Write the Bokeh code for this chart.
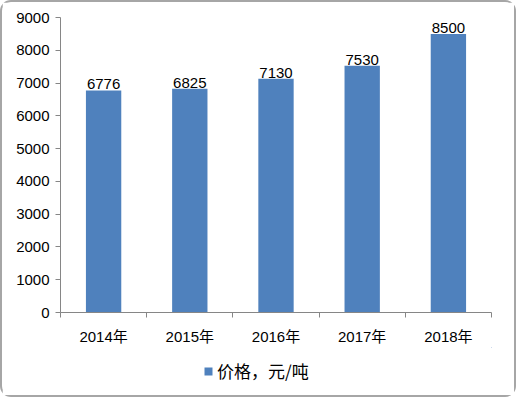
from bokeh.plotting import figure
from bokeh.models import ColumnDataSource, FixedTicker, Range1d, Legend, LegendItem
from bokeh.layouts import column
from bokeh.core.properties import value
from bokeh.embed import file_html
from bokeh.resources import INLINE

years = ["2014年", "2015年", "2016年", "2017年", "2018年"]
prices = [6776, 6825, 7130, 7530, 8500]
y_ticks = [0, 1000, 2000, 3000, 4000, 5000, 6000, 7000, 8000, 9000]
series_name = "价格，元/吨"

BAR_COLOR = "#4F81BD"
AXIS_COLOR = "#868686"
FONT = "Liberation Sans, Noto Sans CJK SC"

xs = [i + 0.5 for i in range(len(years))]
src = ColumnDataSource(dict(x=xs, top=prices, label=[str(v) for v in prices]))

p = figure(width=512, height=345, output_backend="svg", toolbar_location=None,
           x_range=Range1d(0, len(years)), y_range=Range1d(0, 9000),
           min_border_left=58, min_border_right=23, min_border_top=15, min_border_bottom=34)
p.outline_line_color = None
p.xgrid.visible = False
p.ygrid.visible = False

bars = p.vbar(x="x", top="top", width=0.41, bottom=0, source=src,
              fill_color=BAR_COLOR, line_color=None)

p.text(x="x", y="top", text="label", source=src, text_align="center",
       text_baseline="bottom", y_offset=-1, text_font=value(FONT),
       text_font_size="15px", text_color="#000000")

# x axis: labels at category centres, tick marks at category boundaries
xa = p.xaxis[0]
xa.ticker = FixedTicker(ticks=xs, minor_ticks=list(range(len(years) + 1)))
xa.major_label_overrides = {x: y for x, y in zip(xs, years)}
xa.major_tick_in = 0
xa.major_tick_out = 0
xa.minor_tick_in = 0
xa.minor_tick_out = 5
xa.minor_tick_line_color = AXIS_COLOR
xa.axis_line_color = AXIS_COLOR
xa.major_label_text_font = FONT
xa.major_label_text_font_size = "15px"
xa.major_label_text_color = "#000000"
xa.major_label_standoff = 10

# y axis
ya = p.yaxis[0]
ya.ticker = FixedTicker(ticks=y_ticks)
ya.major_tick_in = 0
ya.major_tick_out = 5
ya.minor_tick_line_color = None
ya.major_tick_line_color = AXIS_COLOR
ya.axis_line_color = AXIS_COLOR
ya.major_label_text_font = FONT
ya.major_label_text_font_size = "15px"
ya.major_label_text_color = "#000000"
ya.major_label_standoff = 6

# legend strip below the chart (its key renderer has zero-area bars, so only the key shows)
p2 = figure(width=512, height=48, output_backend="svg", toolbar_location=None,
            x_range=Range1d(-3, -2), y_range=Range1d(0, 1),
            x_axis_location=None, y_axis_location=None,
            min_border=0)
p2.outline_line_color = None
p2.xgrid.visible = False
p2.ygrid.visible = False
key = p2.vbar(x="x", top="top", bottom="top", width=0, source=src,
              fill_color=BAR_COLOR, line_color=None)

legend = Legend(items=[LegendItem(label=series_name, renderers=[key])],
                orientation="horizontal", location=(143, 12),
                border_line_color=None, background_fill_alpha=0,
                label_text_font="Noto Sans CJK SC", label_text_font_size="17px",
                label_text_color="#000000", glyph_width=10, glyph_height=10,
                label_standoff=4, margin=0, padding=4)
p2.add_layout(legend, "center")

layout = column(p, p2, spacing=0,
                styles={"border": "2px solid #a6a6a6", "border-radius": "11px",
                        "box-sizing": "border-box", "width": "516px", "height": "397px",
                        "background-color": "white"})

open("out.html", "w").write(file_html(layout, INLINE))
